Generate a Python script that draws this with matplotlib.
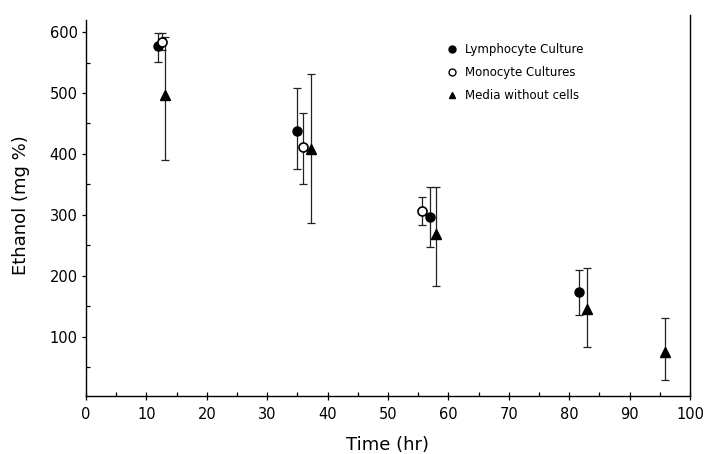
import matplotlib
matplotlib.use("Agg")
import matplotlib.pyplot as plt
from matplotlib.ticker import MultipleLocator
from matplotlib.lines import Line2D

plt.rcParams['font.family'] = ['DejaVu Sans']

# Lymphocyte culture
lym_t = [12.0, 35.0, 57.0, 81.7]
lym_y = [577, 438, 296, 173]
lym_lo = [551, 376, 247, 136]
lym_hi = [598, 509, 346, 209]

# Monocyte cultures
mono_t = [12.6, 36.0, 55.7]
mono_y = [584, 412, 307]
mono_lo = [570, 351, 283]
mono_hi = [598, 467, 329]

# Media without cells
med_t = [13.1, 37.3, 57.9, 83.0, 95.9]
med_y = [497, 408, 268, 145, 75]
med_lo = [390, 286, 184, 83, 29]
med_hi = [592, 532, 346, 213, 130]

fig = plt.figure(figsize=(7.05, 4.54), dpi=100)
ax = fig.add_axes([86 / 705, 1 - 396 / 454, 604 / 705, 381 / 454])


def draw(t, y, lo, hi, **kw):
    err = [[a - b for a, b in zip(y, lo)], [b - a for a, b in zip(y, hi)]]
    ax.errorbar(t, y, yerr=err, fmt='none', ecolor='#222222', elinewidth=0.9,
                capsize=3, capthick=0.9, zorder=2)
    ax.plot(t, y, linestyle='none', zorder=3, **kw)


draw(lym_t, lym_y, lym_lo, lym_hi, marker='o', markersize=6.5,
     markerfacecolor='black', markeredgecolor='black')
draw(mono_t, mono_y, mono_lo, mono_hi, marker='o', markersize=6.5,
     markerfacecolor='white', markeredgecolor='black', markeredgewidth=1.2)
draw(med_t, med_y, med_lo, med_hi, marker='^', markersize=7,
     markerfacecolor='black', markeredgecolor='black')

ax.set_xlim(0, 100)
ax.set_ylim(2.8, 628)
ax.spines['top'].set_visible(False)
for s in ['left', 'right', 'bottom']:
    ax.spines[s].set_linewidth(1.0)
ax.spines['left'].set_bounds(2.8, 620)

ax.xaxis.set_major_locator(MultipleLocator(10))
ax.xaxis.set_minor_locator(MultipleLocator(5))
ax.yaxis.set_major_locator(MultipleLocator(100))
ax.yaxis.set_minor_locator(MultipleLocator(50))
ax.set_yticks([100, 200, 300, 400, 500, 600])
ax.tick_params(axis='x', which='major', direction='inout', length=6, width=0.9,
               labelsize=10.5, pad=5)
ax.tick_params(axis='x', which='minor', direction='in', length=3, width=0.9)
ax.tick_params(axis='y', which='major', direction='out', length=3, width=0.9,
               labelsize=10.5, pad=3)
ax.tick_params(axis='y', which='minor', direction='in', length=3, width=0.9)

ax.set_xlabel('Time (hr)', fontsize=13, labelpad=10)
ax.set_ylabel('Ethanol (mg %)', fontsize=13, labelpad=14)

handles = [
    Line2D([], [], linestyle='none', marker='o', markersize=5, color='black'),
    Line2D([], [], linestyle='none', marker='o', markersize=5,
           markerfacecolor='white', markeredgecolor='black'),
    Line2D([], [], linestyle='none', marker='^', markersize=5, color='black'),
]
labels = ['Lymphocyte Culture', 'Monocyte Cultures', 'Media without cells']
ax.legend(handles, labels, loc='upper left', bbox_to_anchor=(0.578, 0.955),
          frameon=False, fontsize=8.5, handletextpad=0.6, labelspacing=0.85,
          handlelength=1.0)

fig.savefig('out.png', dpi=100)
